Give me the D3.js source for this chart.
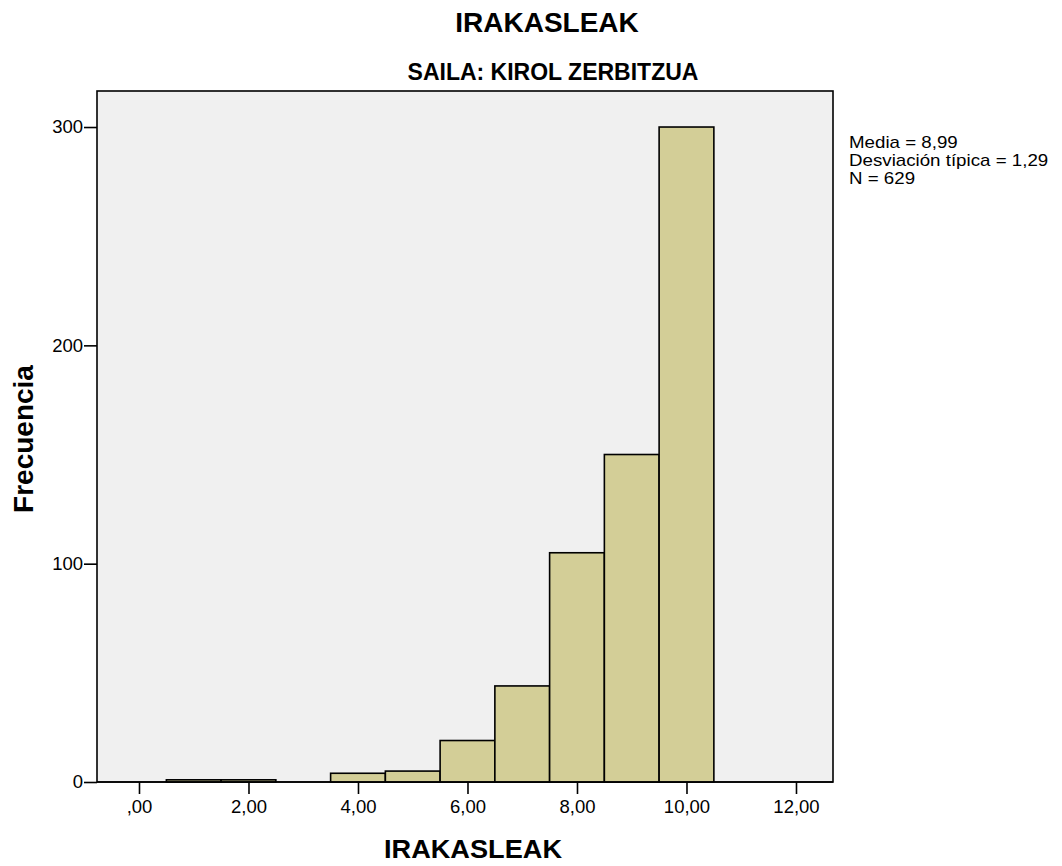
<!DOCTYPE html>
<html><head><meta charset="utf-8">
<script src="https://cdn.jsdelivr.net/npm/d3@7"></script>
<style>body{margin:0;background:#fff}svg{display:block}text{font-family:"Liberation Sans",Arial,sans-serif}</style>
</head><body>
<script>
const binCenters = [1, 2, 4, 5, 6, 7, 8, 9, 10];
const frequencies = [1, 1, 4, 5, 19, 44, 105, 150, 300];
const xTicks = [0, 2, 4, 6, 8, 10, 12];
const xTickLabels = [",00", "2,00", "4,00", "6,00", "8,00", "10,00", "12,00"];
const yTicks = [0, 100, 200, 300];
const statsLines = ["Media = 8,99", "Desviación típica = 1,29", "N = 629"];

const W = 1062, H = 866;
const L = 97, R = 833, T = 91, B = 782;
const FF = "Liberation Sans, Arial, sans-serif";
const svg = d3.select("body").append("svg").attr("width", W).attr("height", H);

const x = d3.scaleLinear().domain([-0.767, 12.676]).range([L, R]);
const y = d3.scaleLinear().domain([0, 316.5]).range([B, T]);

svg.append("rect").attr("x", L).attr("y", T).attr("width", R - L).attr("height", B - T)
  .attr("fill", "#f0f0f0").attr("stroke", "#000").attr("stroke-width", 1.6);

svg.append("g").selectAll("rect").data(binCenters).join("rect")
  .attr("x", d => x(d - 0.5)).attr("width", d => x(d + 0.5) - x(d - 0.5))
  .attr("y", (d, i) => y(frequencies[i])).attr("height", (d, i) => y(0) - y(frequencies[i]))
  .attr("fill", "#d3ce97").attr("stroke", "#000").attr("stroke-width", 1.6);

const xa = svg.append("g").attr("transform", `translate(0,${B})`)
  .call(d3.axisBottom(x).tickValues(xTicks).tickFormat((d, i) => xTickLabels[i]).tickSize(12).tickPadding(6));
xa.select(".domain").remove();
xa.selectAll("line").attr("stroke", "#000").attr("stroke-width", 1.6);
xa.selectAll("text").attr("font-size", 18.5).attr("fill", "#000").style("font-family", FF);

const ya = svg.append("g").attr("transform", `translate(${L},0)`)
  .call(d3.axisLeft(y).tickValues(yTicks).tickSize(13).tickPadding(1));
ya.select(".domain").remove();
ya.selectAll("line").attr("stroke", "#000").attr("stroke-width", 1.6);
ya.selectAll("text").attr("font-size", 18.5).attr("fill", "#000").style("font-family", FF);

svg.append("line").attr("x1", L).attr("x2", R).attr("y1", B).attr("y2", B).attr("stroke", "#000").attr("stroke-width", 1.6);

svg.append("text").attr("x", 547).attr("y", 32).attr("text-anchor", "middle")
  .attr("font-size", 28).attr("font-weight", "bold").text("IRAKASLEAK");
svg.append("text").attr("x", 553).attr("y", 80).attr("text-anchor", "middle")
  .attr("font-size", 23).attr("font-weight", "bold").text("SAILA: KIROL ZERBITZUA");
svg.append("text").attr("x", 473).attr("y", 858).attr("text-anchor", "middle")
  .attr("font-size", 25).attr("font-weight", "bold")
  .attr("textLength", 178).attr("lengthAdjust", "spacingAndGlyphs").text("IRAKASLEAK");
svg.append("text").attr("transform", "translate(33,439) rotate(-90)").attr("text-anchor", "middle")
  .attr("font-size", 28).attr("font-weight", "bold").text("Frecuencia");

svg.append("g").attr("transform", "translate(849,0) scale(1.17,1)")
  .selectAll("text").data(statsLines).join("text")
  .attr("x", 0).attr("y", (d, i) => 148 + i * 18.2).attr("font-size", 16).text(d => d);
</script>
</body></html>
